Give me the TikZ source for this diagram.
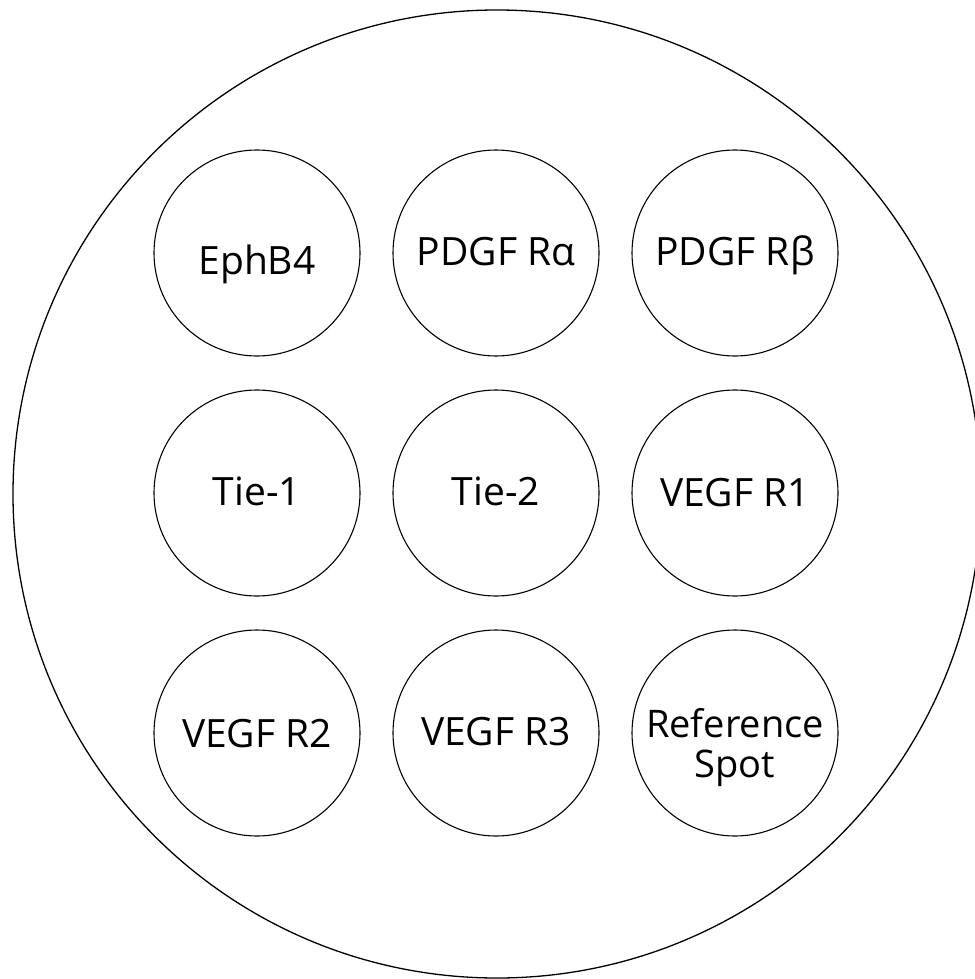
\documentclass[tikz,border=0pt]{standalone}
\usepackage{fontspec}
\setmainfont{Open Sans}
\begin{document}
\begin{tikzpicture}[x=1pt,y=-1pt,
  well/.style={circle,draw,line width=1.1pt,minimum size=206pt,inner sep=0pt},
  tag/.style={anchor=base,inner sep=0pt,align=center,
    font=\fontsize{39}{40}\selectfont}]
\useasboundingbox (0,0) rectangle (974,979);
% membrane outline
\node[circle,draw,line width=1.3pt,minimum size=968pt,inner sep=0pt] (membrane) at (497,494) {};
% antibody spots
\node[well] (ephb4)   at (257,253) {};
\node[well] (pdgfra)  at (496,253) {};
\node[well] (pdgfrb)  at (735,253) {};
\node[well] (tie1)    at (257,493) {};
\node[well] (tie2)    at (496,493) {};
\node[well] (vegfr1)  at (735,493) {};
\node[well] (vegfr2)  at (257,733) {};
\node[well] (vegfr3)  at (496,733) {};
\node[well] (refspot) at (735,733) {};
% spot labels, placed on their baselines
\node[tag] (ephb4-t)   at (257,274) {EphB4};
\node[tag] (pdgfra-t)  at (496,265) {PDGF Rα};
\node[tag] (pdgfrb-t)  at (735,265) {PDGF Rβ};
\node[tag] (tie1-t)    at (257,505) {Tie-1};
\node[tag] (tie2-t)    at (496,505) {Tie-2};
\node[tag] (vegfr1-t)  at (735,506) {VEGF R1};
\node[tag] (vegfr2-t)  at (257,747) {VEGF R2};
\node[tag] (vegfr3-t)  at (496,745) {VEGF R3};
\node[tag,font=\fontsize{38}{40}\selectfont] (refspot-t) at (735,777) {Reference\\Spot};
\end{tikzpicture}
\end{document}
